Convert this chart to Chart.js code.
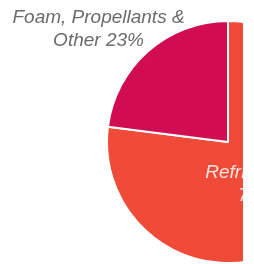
<!DOCTYPE html>
<html lang="en">
<head>
    <meta charset="UTF-8">
    <title>Uses share pie</title>
    <script src="https://cdn.jsdelivr.net/npm/chart.js"></script>
    <style>
        html, body { margin: 0; padding: 0; background: #fff; }
        /* chart is wider than the visible frame, the right part is cut off */
        .frame { width: 243px; height: 264px; overflow: hidden; position: relative; }
        #usesPie { display: block; }
    </style>
</head>
<body>
    <div class="frame">
        <canvas id="usesPie" width="456" height="264"></canvas>
    </div>

    <script>
        // --- data ---
        const categories = ['Refrigerants', 'Foam, Propellants & Other'];
        const shares = [77, 23];
        const labelLines = [['Refrigerants', '77%'], ['Foam, Propellants &', 'Other 23%']];
        const sliceColors = ['#F04B38', '#D00D52'];
        const labelColors = ['#FBE3DF', '#6b6b6b'];
        // label anchor, in units of the radius, from the pie centre
        const labelOffsets = [[0.24, 0.35], [-1.07, -0.93]];

        // draws the text labels next to / inside the slices
        const sliceLabels = {
            id: 'sliceLabels',
            afterDatasetsDraw(chart) {
                const ctx = chart.ctx;
                const arcs = chart.getDatasetMeta(0).data;
                ctx.save();
                ctx.font = 'italic 19px "Liberation Sans", Arial, sans-serif';
                ctx.textAlign = 'center';
                ctx.textBaseline = 'middle';
                arcs.forEach((arc, i) => {
                    const x = arc.x + labelOffsets[i][0] * arc.outerRadius;
                    const y = arc.y + labelOffsets[i][1] * arc.outerRadius;
                    ctx.fillStyle = labelColors[i];
                    const lines = labelLines[i];
                    lines.forEach((line, k) => {
                        ctx.fillText(line, x, y + (k - (lines.length - 1) / 2) * 23);
                    });
                });
                ctx.restore();
            }
        };

        new Chart(document.getElementById('usesPie'), {
            type: 'pie',
            data: {
                labels: categories,
                datasets: [{
                    data: shares,
                    backgroundColor: sliceColors,
                    borderColor: '#ffffff',
                    borderWidth: 2
                }]
            },
            options: {
                responsive: false,
                animation: false,
                layout: { padding: { top: 20, bottom: 0 } },
                plugins: {
                    legend: { display: false },
                    tooltip: { enabled: false }
                }
            },
            plugins: [sliceLabels]
        });
    </script>
</body>
</html>
